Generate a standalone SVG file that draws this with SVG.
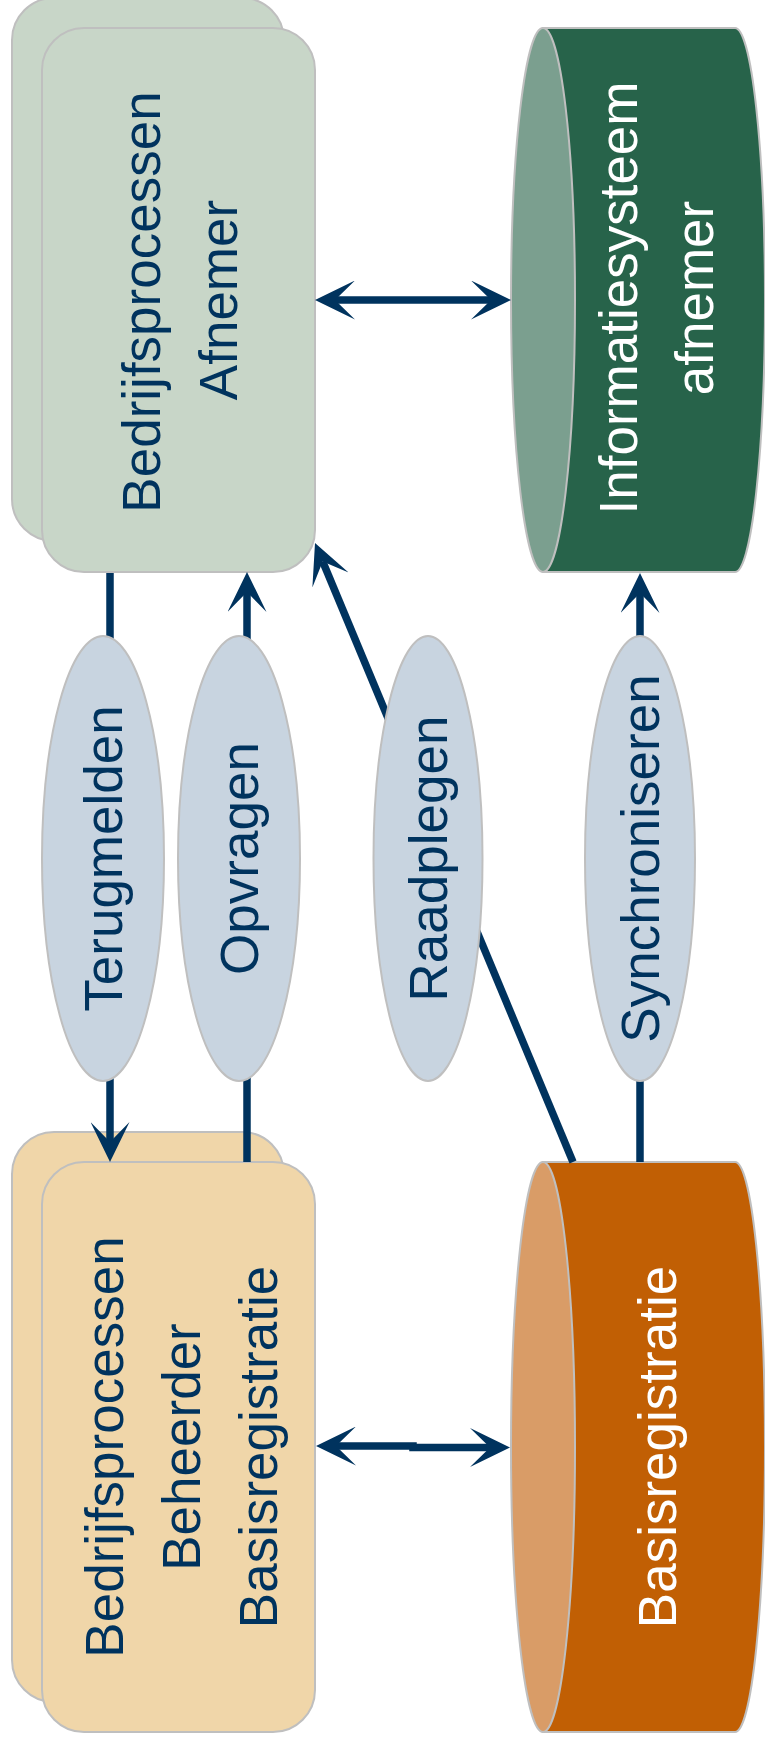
<svg xmlns="http://www.w3.org/2000/svg" width="765" height="1744" viewBox="0 0 765 1744">
<defs>
<style>
.box{stroke:#BFBFBF;stroke-width:2}
.g{fill:#C8D6C8}
.b{fill:#F0D6A9}
.oval{fill:#C8D4E0;stroke:#BFBFBF;stroke-width:2}
.t{font-family:"Liberation Sans",Arial,sans-serif;font-size:53px;text-anchor:middle;fill:#00335E}
.w{fill:#FFFFFF}
.conn{stroke:#00335E;stroke-width:7.5;fill:none}
</style>
<marker id="ah" markerUnits="userSpaceOnUse" viewBox="0 0 40 39" refX="20" refY="19.5" markerWidth="40" markerHeight="39" orient="auto-start-reverse"><path d="M40,19.5 L0,0 L20,19.5 L0,39 Z" fill="#00335E"/></marker>
</defs>
<rect width="765" height="1744" fill="#FFFFFF"/>

<g id="bedrijfsprocessen-afnemer">
<rect class="box g" x="12" y="-2" width="272" height="543" rx="42"/>
<rect class="box g" x="42" y="28" width="273" height="544" rx="42"/>
<text class="t" transform="translate(160,302) rotate(-90)">Bedrijfsprocessen</text>
<text class="t" transform="translate(237,300) rotate(-90)">Afnemer</text>
</g>

<g id="informatiesysteem-afnemer">
<path d="M543,28 L735,28 A30,272 0 0 1 735,572 L543,572 Z" fill="#27634A" stroke="#BFBFBF" stroke-width="2"/>
<ellipse cx="543" cy="300" rx="32" ry="272" fill="#7B9F8F" stroke="#BFBFBF" stroke-width="2"/>
<text class="t w" transform="translate(637,298) rotate(-90)">Informatiesysteem</text>
<text class="t w" transform="translate(713,298) rotate(-90)">afnemer</text>
</g>

<g id="bedrijfsprocessen-beheerder">
<rect class="box b" x="12" y="1132" width="272" height="570" rx="42"/>
<rect class="box b" x="42" y="1162" width="273" height="570" rx="42"/>
<text class="t" transform="translate(123,1447) rotate(-90)">Bedrijfsprocessen</text>
<text class="t" transform="translate(200,1447) rotate(-90)">Beheerder</text>
<text class="t" transform="translate(277,1447) rotate(-90)">Basisregistratie</text>
</g>

<g id="basisregistratie">
<path d="M543,1162 L735,1162 A30,285 0 0 1 735,1732 L543,1732 Z" fill="#C15F04" stroke="#BFBFBF" stroke-width="2"/>
<ellipse cx="543" cy="1447" rx="32" ry="285" fill="#D99C67" stroke="#BFBFBF" stroke-width="2"/>
<text class="t w" transform="translate(676,1447) rotate(-90)">Basisregistratie</text>
</g>

<g id="connectors">
<path class="conn" d="M335,300 L491,300" marker-start="url(#ah)" marker-end="url(#ah)"/>
<path class="conn" d="M336,1446 L413,1446 L413,1447.5 L490,1447.5" marker-start="url(#ah)" marker-end="url(#ah)"/>
<path class="conn" d="M110,573 L110,1142" marker-end="url(#ah)"/>
<path class="conn" d="M247,1162 L247,592" marker-end="url(#ah)"/>
<path class="conn" d="M573,1162 L322.7,561.5" marker-end="url(#ah)"/>
<path class="conn" d="M640,1162 L640,593" marker-end="url(#ah)"/>
</g>

<g id="terugmelden">
<ellipse class="oval" cx="103" cy="858.5" rx="61" ry="222.5"/>
<text class="t" transform="translate(122,858.5) rotate(-90)">Terugmelden</text>
</g>
<g id="opvragen">
<ellipse class="oval" cx="239" cy="858.5" rx="61" ry="222.5"/>
<text class="t" transform="translate(258,858.5) rotate(-90)">Opvragen</text>
</g>
<g id="raadplegen">
<ellipse class="oval" cx="428" cy="858.5" rx="54.5" ry="222.5"/>
<text class="t" transform="translate(447,858.5) rotate(-90)">Raadplegen</text>
</g>
<g id="synchroniseren">
<ellipse class="oval" cx="640" cy="858.5" rx="55" ry="222.5"/>
<text class="t" transform="translate(659,858.5) rotate(-90)">Synchroniseren</text>
</g>
</svg>
